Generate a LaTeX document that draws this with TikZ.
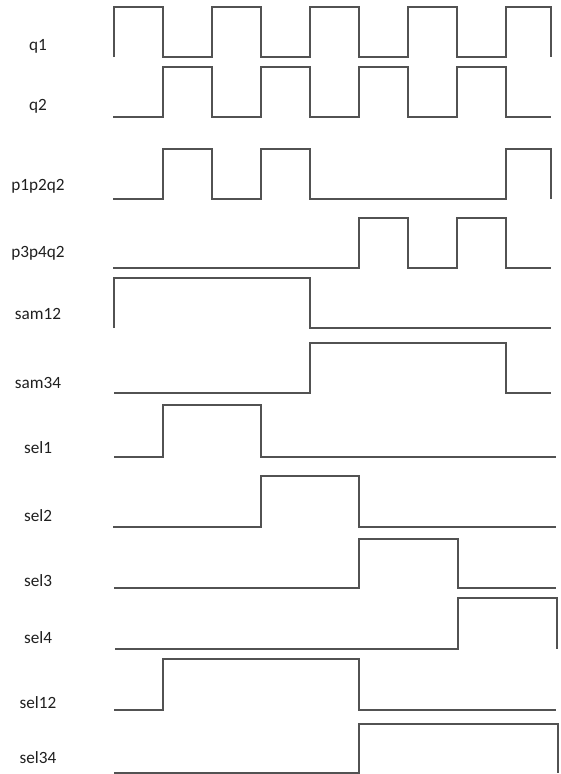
\documentclass[tikz,border=0pt]{standalone}
\usepackage{fontspec}
\setmainfont{Carlito}
\usepackage{tikz}
\tikzstyle{signame} = [text=black!88, font=\fontsize{17.2}{19}\selectfont, inner sep=0pt]
\tikzstyle{wave} = [draw=black!68, line width=1.4pt, line join=miter]

\begin{document}
\begin{tikzpicture}[x=1pt, y=-1pt]
\useasboundingbox (0,0) rectangle (560,774);

\node (q1) [signame] at (38,46) {q1};
\node (q2) [signame] at (38,106) {q2};
\node (p1p2q2) [signame] at (38,186) {p1p2q2};
\node (p3p4q2) [signame] at (38,253) {p3p4q2};
\node (sam12) [signame] at (38,314) {sam12};
\node (sam34) [signame] at (38,383) {sam34};
\node (sel1) [signame] at (38,448) {sel1};
\node (sel2) [signame] at (38,516) {sel2};
\node (sel3) [signame] at (38,581) {sel3};
\node (sel4) [signame] at (38,638) {sel4};
\node (sel12) [signame] at (38,703) {sel12};
\node (sel34) [signame] at (38,758) {sel34};

\draw [wave] (114,57) |- (163,7) |- (212,57) |- (261,7) |- (310,57) |- (359,7) |- (408,57) |- (457,7) |- (506,57) |- (551,7) -- (551,57);
\draw [wave] (113,117) -- (163,117) |- (212,67) |- (261,117) |- (310,67) |- (359,117) |- (408,67) |- (457,117) |- (506,67) |- (551,117);
\draw [wave] (113,199) -- (163,199) |- (212,149) |- (261,199) |- (310,149) |- (506,199) |- (551,149) -- (551,199);
\draw [wave] (113,268) -- (359,268) |- (408,218) |- (457,268) |- (506,218) |- (551,268);
\draw [wave] (114,328) |- (310,278) |- (551,328);
\draw [wave] (114,393) -- (310,393) |- (506,343) |- (551,393);
\draw [wave] (114,457) -- (163,457) |- (261,405) |- (556,457);
\draw [wave] (113,527) -- (261,527) |- (359,476) |- (556,527);
\draw [wave] (114,588) -- (359,588) |- (458,539) |- (556,588);
\draw [wave] (115,649) -- (458,649) |- (557,598) -- (557,649);
\draw [wave] (114,710) -- (163,710) |- (359,659) |- (556,710);
\draw [wave] (114,773) -- (359,773) |- (558,724) -- (558,773);

\end{tikzpicture}
\end{document}
